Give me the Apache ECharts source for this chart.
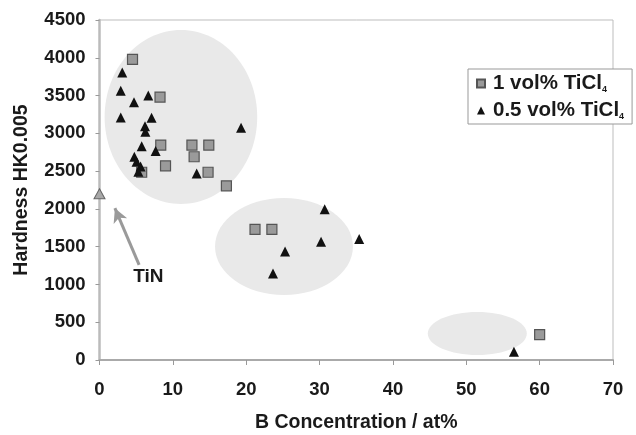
<!DOCTYPE html>
<html>
<head>
<meta charset="utf-8">
<script src="https://cdn.jsdelivr.net/npm/echarts@6/dist/echarts.min.js"></script>
<style>html,body{margin:0;padding:0;background:#fff;}#c{width:636px;height:435px;}</style>
</head>
<body>
<div id="c"></div>
<script>
// ---- data ----
const seriesNames = ['1 vol% TiCl4', '0.5 vol% TiCl4'];
// 1 vol% TiCl4 (squares): [B at%, hardness]
const squaresX = [4.5, 8.25, 8.35, 12.6, 14.9, 12.9, 9.0, 5.75, 14.8, 17.3, 21.2, 23.5, 60.0];
const squaresY = [3980, 3480, 2845, 2845, 2845, 2690, 2570, 2485, 2485, 2305, 1730, 1730, 335];
// 0.5 vol% TiCl4 (triangles)
const trianglesX = [3.1, 2.9, 4.7, 6.65, 2.9, 7.1, 6.2, 6.25, 19.3, 5.75, 7.65, 4.75, 5.05, 5.6, 5.3, 13.25, 30.7, 35.4, 30.2, 25.3, 23.65, 56.5];
const trianglesY = [3805, 3565, 3410, 3500, 3210, 3205, 3095, 3020, 3075, 2830, 2765, 2690, 2625, 2560, 2490, 2470, 1995, 1600, 1565, 1435, 1145, 110];
// TiN reference point
const tinX = [0];
const tinY = [2200];
const tinLabelPos = [6.65, 1100];
const tinArrowFrom = [5.4, 1260];
const tinArrowTo = [2.1, 2010];
// grouping ellipses: centre x, centre y, radius x, radius y (data units)
const ellipseCX = [11.1, 25.15, 51.5];
const ellipseCY = [3216, 1502, 351];
const ellipseRX = [10.4, 9.4, 6.75];
const ellipseRY = [1151, 642, 285];
// axes
const xTicks = [0, 10, 20, 30, 40, 50, 60, 70];
const yTicks = [0, 500, 1000, 1500, 2000, 2500, 3000, 3500, 4000, 4500];

const zip = (a, b) => a.map((v, i) => [v, b[i]]);
const FONT = '"Liberation Sans", Arial, sans-serif';

const chart = echarts.init(document.getElementById('c'));
chart.setOption({
  animation: false,
  backgroundColor: '#fff',
  grid: { left: 99.5, right: 23, top: 20, bottom: 75, show: true, borderColor: '#bdbdbd', borderWidth: 1, backgroundColor: 'transparent', containLabel: false, outerBoundsMode: 'none' },
  legend: {
    data: seriesNames,
    orient: 'vertical',
    left: 468, top: 69,
    padding: [4, 8, 3, 8],
    itemWidth: 8, itemHeight: 8,
    itemGap: 6,
    backgroundColor: '#fff',
    borderColor: '#999', borderWidth: 1,
    formatter: n => n.replace(/4$/, '{s|4}'),
    textStyle: {
      fontFamily: FONT, fontWeight: 'bold', fontSize: 20.5, color: '#1a1a1a', lineHeight: 21, padding: [0, 0, 0, 3],
      rich: { s: { fontFamily: FONT, fontWeight: 'bold', fontSize: 9, lineHeight: 9, verticalAlign: 'bottom', color: '#1a1a1a' } }
    }
  },
  xAxis: {
    type: 'value', min: xTicks[0], max: xTicks[xTicks.length - 1], interval: 10,
    name: 'B Concentration / at%', nameLocation: 'middle', nameGap: 53,
    nameTextStyle: { fontFamily: FONT, fontWeight: 'bold', fontSize: 19.5, color: '#1a1a1a' },
    axisLine: { show: true, onZero: false, lineStyle: { color: '#aaa', width: 2 } },
    axisTick: { show: true, length: 5, lineStyle: { color: '#999' } },
    axisLabel: { margin: 20, fontFamily: FONT, fontWeight: 'bold', fontSize: 18.5, color: '#1a1a1a', formatter: v => String(v) },
    splitLine: { show: false }
  },
  yAxis: {
    type: 'value', min: yTicks[0], max: yTicks[yTicks.length - 1], interval: 500,
    name: 'Hardness HK0.005', nameLocation: 'middle', nameGap: 68,
    nameTextStyle: { fontFamily: FONT, fontWeight: 'bold', fontSize: 19.5, color: '#1a1a1a' },
    axisLine: { show: true, onZero: false, lineStyle: { color: '#bbb', width: 2.5 } },
    axisTick: { show: true, length: 4, lineStyle: { color: '#999' } },
    axisLabel: { margin: 14, fontFamily: FONT, fontWeight: 'bold', fontSize: 18.5, color: '#1a1a1a', formatter: v => String(v) },
    splitLine: { show: false }
  },
  series: [
    {
      type: 'custom', name: 'groups', silent: true, z: 1,
      data: ellipseCX.map((x, i) => [x, ellipseCY[i], ellipseRX[i], ellipseRY[i]]),
      renderItem: (params, api) => {
        const c = api.coord([api.value(0), api.value(1)]);
        const s = api.size([api.value(2), api.value(3)]);
        return { type: 'ellipse', shape: { cx: c[0], cy: c[1], rx: s[0], ry: s[1] }, style: { fill: '#e9e9e9' } };
      }
    },
    {
      type: 'scatter', name: seriesNames[0], z: 3,
      symbol: 'rect', symbolSize: 10,
      itemStyle: { color: '#9a9a9a', borderColor: '#555', borderWidth: 1.2, opacity: 1 },
      data: zip(squaresX, squaresY)
    },
    {
      type: 'scatter', name: seriesNames[1], z: 4,
      symbol: 'triangle', symbolSize: [10, 10],
      itemStyle: { color: '#111', opacity: 1 },
      data: zip(trianglesX, trianglesY)
    },
    {
      type: 'scatter', name: 'TiN', z: 3,
      symbol: 'triangle', symbolSize: [11, 10],
      itemStyle: { color: '#a8a8a8', borderColor: '#666', borderWidth: 1, opacity: 1 },
      data: zip(tinX, tinY),
      markLine: {
        silent: true, animation: false,
        symbol: ['none', 'arrow'], symbolSize: [11, 14],
        label: { show: false },
        lineStyle: { color: '#9a9a9a', width: 3, type: 'solid' },
        data: [[{ coord: tinArrowFrom }, { coord: tinArrowTo }]]
      }
    },
    {
      type: 'scatter', name: 'TiN label', z: 5, symbolSize: 0, silent: true,
      itemStyle: { opacity: 1 },
      data: [tinLabelPos],
      label: { show: true, position: 'inside', formatter: 'TiN', fontFamily: FONT, fontWeight: 'bold', fontSize: 19, color: '#1a1a1a' }
    }
  ]
});
</script>
</body>
</html>
